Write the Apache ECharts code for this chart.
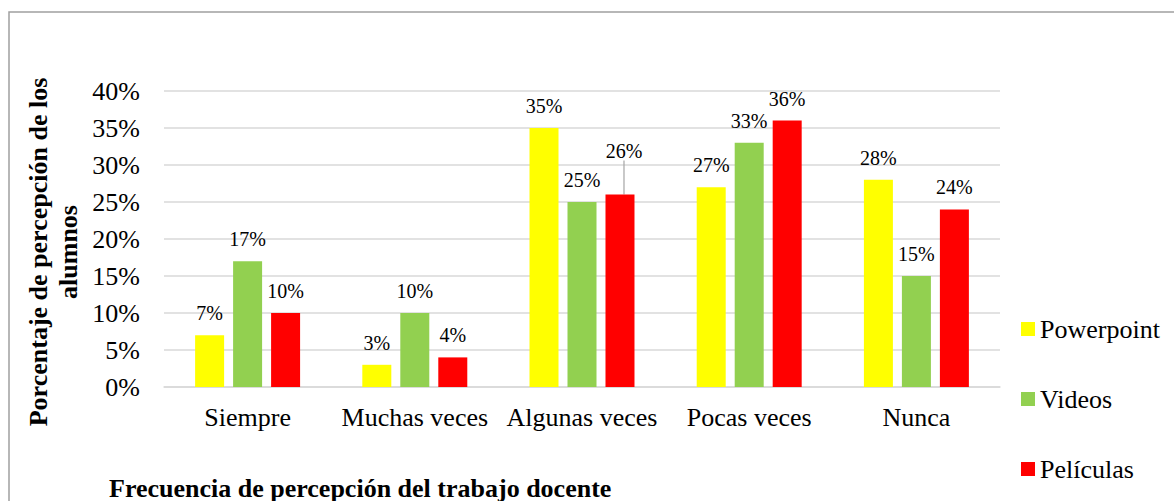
<!DOCTYPE html>
<html>
<head>
<meta charset="utf-8">
<script src="https://cdn.jsdelivr.net/npm/echarts@6/dist/echarts.min.js"></script>
<style>
  html, body { margin: 0; padding: 0; background: #fff; }
  #chart { width: 1174px; height: 501px; }
</style>
</head>
<body>
<div id="chart"></div>
<script>
const categories = ['Siempre', 'Muchas veces', 'Algunas veces', 'Pocas veces', 'Nunca']
const powerpoint = [7, 3, 35, 27, 28]
const videos = [17, 10, 25, 33, 15]
const peliculas = [10, 4, 26, 36, 24]

const font = 'Liberation Serif'
const colors = {
  powerpoint: '#ffff00',
  videos: '#92d050',
  peliculas: '#ff0000'
}

const chart = echarts.init(document.getElementById('chart'), null, { renderer: 'svg' })

function barSeries(name, data, color) {
  return {
    name: name,
    type: 'bar',
    barWidth: 29,
    barGap: '31%',
    data: data,
    itemStyle: { color: color },
    label: {
      show: true,
      position: 'top',
      distance: 12,
      formatter: '{c}%',
      color: '#000',
      fontFamily: font,
      fontSize: 20
    },
    labelLine: {
      show: false,
      lineStyle: { color: '#a6a6a6', width: 1.2 }
    }
  }
}

// only the 26% label is pulled up with a leader line
const pelisSeries = barSeries('Películas', peliculas.map((v, i) => (i === 2 ? { value: v, labelLine: { show: true } } : v)), colors.peliculas)

const option = {
  animation: false,
  textStyle: { fontFamily: font },
  graphic: [
    {
      type: 'rect',
      shape: { x: 9, y: 12, width: 1300, height: 700 },
      style: { fill: 'none', stroke: '#a0a0a0', lineWidth: 1.5 },
      silent: true
    },
    {
      type: 'text',
      x: 53,
      y: 252,
      rotation: Math.PI / 2,
      style: {
        text: 'Porcentaje de percepción de los\nalumnos',
        font: 'bold 26px Liberation Serif',
        fill: '#000',
        align: 'center',
        verticalAlign: 'middle',
        lineHeight: 30
      },
      silent: true
    }
  ],
  title: {
    text: 'Frecuencia de percepción del trabajo docente',
    left: 104,
    top: 470,
    textStyle: { fontFamily: font, fontSize: 26, fontWeight: 'bold', color: '#000' }
  },
  legend: {
    orient: 'vertical',
    left: 1016,
    top: 311,
    itemWidth: 14,
    itemHeight: 14,
    itemGap: 44,
    icon: 'rect',
    textStyle: { fontFamily: font, fontSize: 26, color: '#000' },
    data: ['Powerpoint', 'Videos', 'Películas']
  },
  grid: {
    left: 164,
    right: 174,
    top: 91,
    bottom: 114
  },
  xAxis: {
    type: 'category',
    data: categories,
    axisLine: { show: true, lineStyle: { color: '#d9d9d9', width: 1.5 } },
    axisTick: { show: false },
    axisLabel: { interval: 0, color: '#000', fontFamily: font, fontSize: 26, margin: 17 }
  },
  yAxis: {
    type: 'value',
    min: 0,
    max: 40,
    interval: 5,
    axisLine: { show: false },
    axisTick: { show: false },
    axisLabel: { color: '#000', fontFamily: font, fontSize: 26, margin: 24, formatter: '{value}%' },
    splitLine: { lineStyle: { color: '#d9d9d9', width: 1.5 } }
  },
  labelLayout: function (params) {
    if (params.seriesIndex === 2 && params.dataIndex === 2) {
      return { dx: 4, dy: -22 }
    }
  },
  series: [
    barSeries('Powerpoint', powerpoint, colors.powerpoint),
    barSeries('Videos', videos, colors.videos),
    pelisSeries
  ]
}

chart.setOption(option)
</script>
</body>
</html>
